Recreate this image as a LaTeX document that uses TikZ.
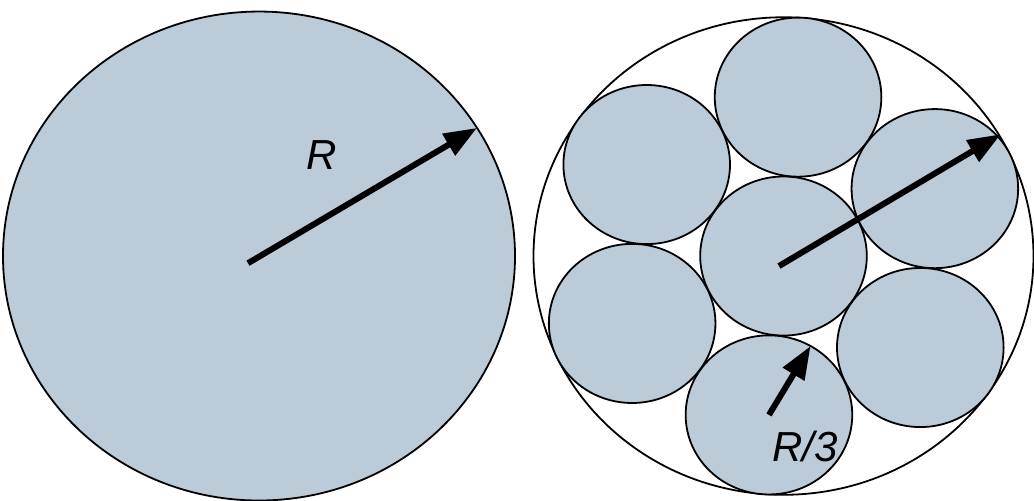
\documentclass[tikz,border=0pt]{standalone}
\usepackage{fontspec}
\setmainfont{Liberation Sans}
\usetikzlibrary{arrows.meta,calc}
\definecolor{discfill}{RGB}{187,203,216}

\begin{document}
\begin{tikzpicture}[x=1pt, y=0.955pt, >={Triangle[length=33pt,width=24pt]},
    disc/.style={draw=black, line width=1.8pt, fill=discfill},
    radius arrow/.style={->, line width=6pt},
    lbl/.style={font=\fontsize{42}{50}\selectfont\itshape, inner sep=0pt}]
    \useasboundingbox (0,0) rectangle (1034,523.6);
    % one large cylinder
    \coordinate (lc) at (259,255.5);
    \draw[disc] (lc) circle (256);
    \coordinate (ltail) at (248,248);
    \coordinate (lrim) at ($(lc)+(31.6:256)$);
    \draw[radius arrow] (ltail) -- (lrim);
    \node[lbl] (lblR) at (322,361) {R};
    % seven cylinders of radius R/3
    \coordinate (rc) at (783.5,255.5);
    \draw[line width=1.8pt, fill=white] (rc) circle (250);
    \draw[disc] (rc) circle (83.3);
    \foreach \a in {25,85,...,325}
      \draw[disc] ($(rc)+(\a:167)$) circle (83.3);
    \coordinate (rtail) at (779,245);
    \coordinate (rrim) at ($(rc)+(30.4:252)$);
    \draw[radius arrow] (rtail) -- (rrim);
    \coordinate (rb) at ($(rc)+(265:167)$);
    \coordinate (rbrim) at ($(rb)+(60:83.3)$);
    \draw[radius arrow] (rb) -- (rbrim);
    \node[lbl] (lblRthird) at (805,56.5) {R/3};
  \end{tikzpicture}
\end{document}
